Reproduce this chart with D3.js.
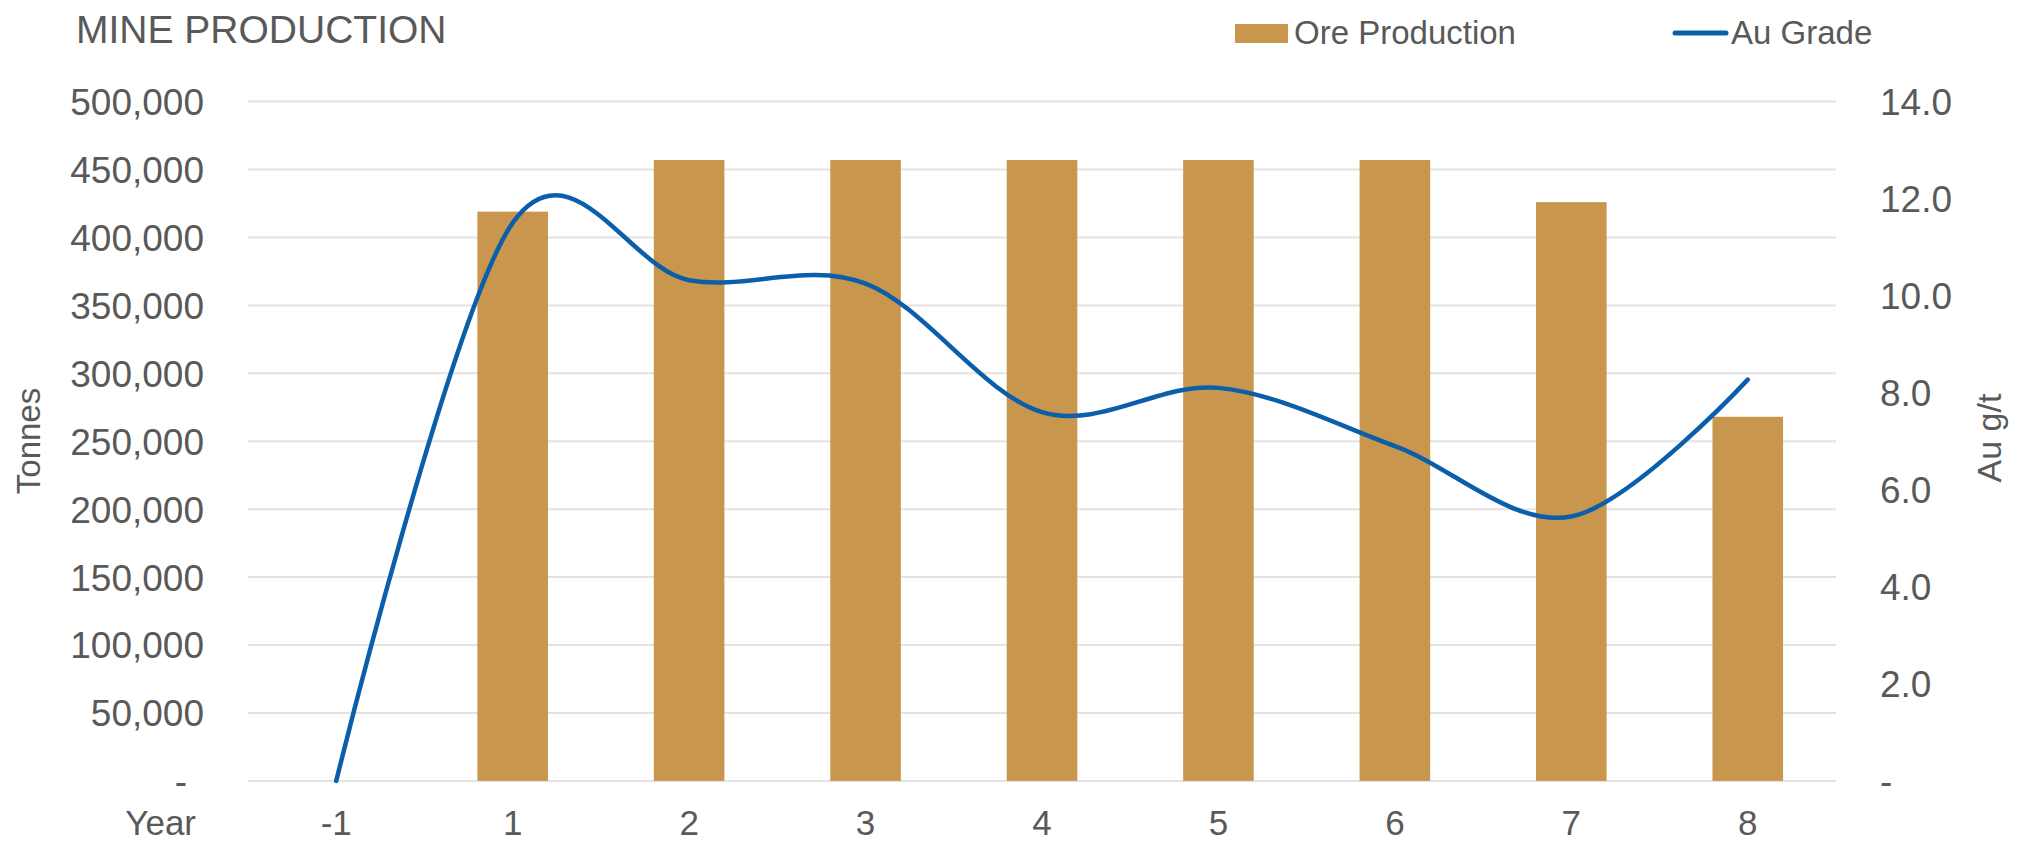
<!DOCTYPE html>
<html>
<head>
<meta charset="utf-8">
<script src="https://cdn.jsdelivr.net/npm/d3@7"></script>
<style>
  html, body { margin: 0; padding: 0; background: #ffffff; }
  svg { display: block; }
  text { font-family: "Liberation Sans", Arial, sans-serif; fill: #595959; }
</style>
</head>
<body>
<svg id="chart" width="2017" height="843"></svg>
<script>
// Mine production schedule by year
const years = ["-1", "1", "2", "3", "4", "5", "6", "7", "8"];
const oreTonnes = [0, 419000, 457000, 457000, 457000, 457000, 457000, 426000, 268000];
const auGrade = [0, 11.5, 10.32, 10.25, 7.6, 8.1, 6.9, 5.45, 8.27];
const tonneTicks = [0, 50000, 100000, 150000, 200000, 250000, 300000, 350000, 400000, 450000, 500000];
const gradeTicks = [0, 2, 4, 6, 8, 10, 12, 14];

const W = 2017, H = 843;
const plot = { left: 248, right: 1836, top: 101.6, bottom: 780.9 };

const svg = d3.select("#chart");

const x = d3.scaleBand()
  .domain(years)
  .range([plot.left, plot.right])
  .paddingInner(0.6)
  .paddingOuter(0.3);

const yLeft = d3.scaleLinear().domain([0, 500000]).range([plot.bottom, plot.top]);
const yRight = d3.scaleLinear().domain([0, 14]).range([plot.bottom, plot.top]);

const fmtTonnes = d => d === 0 ? "-" : d3.format(",")(d);
const fmtGrade = d => d === 0 ? "-" : d3.format(".1f")(d);

// Horizontal gridlines
svg.append("g").attr("class", "grid")
  .selectAll("line")
  .data(tonneTicks)
  .join("line")
  .attr("x1", plot.left)
  .attr("x2", plot.right)
  .attr("y1", d => yLeft(d))
  .attr("y2", d => yLeft(d))
  .attr("stroke", "#e3e3e3")
  .attr("stroke-width", 2);

// Left axis (tonnes)
const leftAxis = svg.append("g")
  .attr("transform", `translate(${plot.left - 44},0)`)
  .call(d3.axisLeft(yLeft).tickValues(tonneTicks).tickFormat(fmtTonnes).tickSize(0).tickPadding(0));
leftAxis.select(".domain").remove();
leftAxis.selectAll("text")
  .style("font-family", "'Liberation Sans', Arial, sans-serif")
  .attr("font-size", 37)
  .attr("fill", "#595959")
  .attr("dy", "0.35em")
  .attr("dx", d => d === 0 ? -17 : 0);

// Right axis (Au grade)
const rightAxis = svg.append("g")
  .attr("transform", `translate(${plot.right + 44},0)`)
  .call(d3.axisRight(yRight).tickValues(gradeTicks).tickFormat(fmtGrade).tickSize(0).tickPadding(0));
rightAxis.select(".domain").remove();
rightAxis.selectAll("text")
  .style("font-family", "'Liberation Sans', Arial, sans-serif")
  .attr("font-size", 37)
  .attr("fill", "#595959")
  .attr("dy", "0.35em");

// Category axis
const bottomAxis = svg.append("g")
  .attr("transform", `translate(0,${plot.bottom})`)
  .call(d3.axisBottom(x).tickSize(0).tickPadding(0));
bottomAxis.select(".domain").remove();
bottomAxis.selectAll("text")
  .style("font-family", "'Liberation Sans', Arial, sans-serif")
  .attr("font-size", 35)
  .attr("fill", "#595959")
  .attr("dy", null)
  .attr("y", 54);

svg.append("text")
  .attr("x", 196)
  .attr("y", plot.bottom + 54)
  .attr("text-anchor", "end")
  .attr("font-size", 35)
  .text("Year");

// Ore production bars
svg.append("g").attr("class", "bars")
  .selectAll("rect")
  .data(years.map((y, i) => ({ year: y, value: oreTonnes[i] })))
  .join("rect")
  .attr("x", d => x(d.year))
  .attr("width", x.bandwidth())
  .attr("y", d => yLeft(d.value))
  .attr("height", d => yLeft(0) - yLeft(d.value))
  .attr("fill", "#c9964d");

// Au grade smoothed line
const line = d3.line()
  .x(d => x(d.year) + x.bandwidth() / 2)
  .y(d => yRight(d.value))
  .curve(d3.curveCatmullRom.alpha(0));

svg.append("path")
  .datum(years.map((y, i) => ({ year: y, value: auGrade[i] })))
  .attr("d", line)
  .attr("fill", "none")
  .attr("stroke", "#0b5faa")
  .attr("stroke-width", 4.5)
  .attr("stroke-linecap", "round")
  .attr("stroke-linejoin", "round");

// Axis titles
svg.append("text")
  .attr("transform", `translate(40,441) rotate(-90)`)
  .attr("text-anchor", "middle")
  .attr("font-size", 33)
  .text("Tonnes");

svg.append("text")
  .attr("transform", `translate(2001,438) rotate(-90)`)
  .attr("text-anchor", "middle")
  .attr("font-size", 34)
  .text("Au g/t");

// Title
svg.append("text")
  .attr("x", 76)
  .attr("y", 43)
  .attr("font-size", 39)
  .text("MINE PRODUCTION");

// Legend
const legend = svg.append("g").attr("class", "legend");
legend.append("rect")
  .attr("x", 1235).attr("y", 24)
  .attr("width", 53).attr("height", 19)
  .attr("fill", "#c9964d");
legend.append("text")
  .attr("x", 1294).attr("y", 44)
  .attr("font-size", 33)
  .text("Ore Production");
legend.append("line")
  .attr("x1", 1675).attr("x2", 1726)
  .attr("y1", 33).attr("y2", 33)
  .attr("stroke", "#0b5faa")
  .attr("stroke-width", 5)
  .attr("stroke-linecap", "round");
legend.append("text")
  .attr("x", 1731).attr("y", 44)
  .attr("font-size", 33)
  .text("Au Grade");
</script>
</body>
</html>
